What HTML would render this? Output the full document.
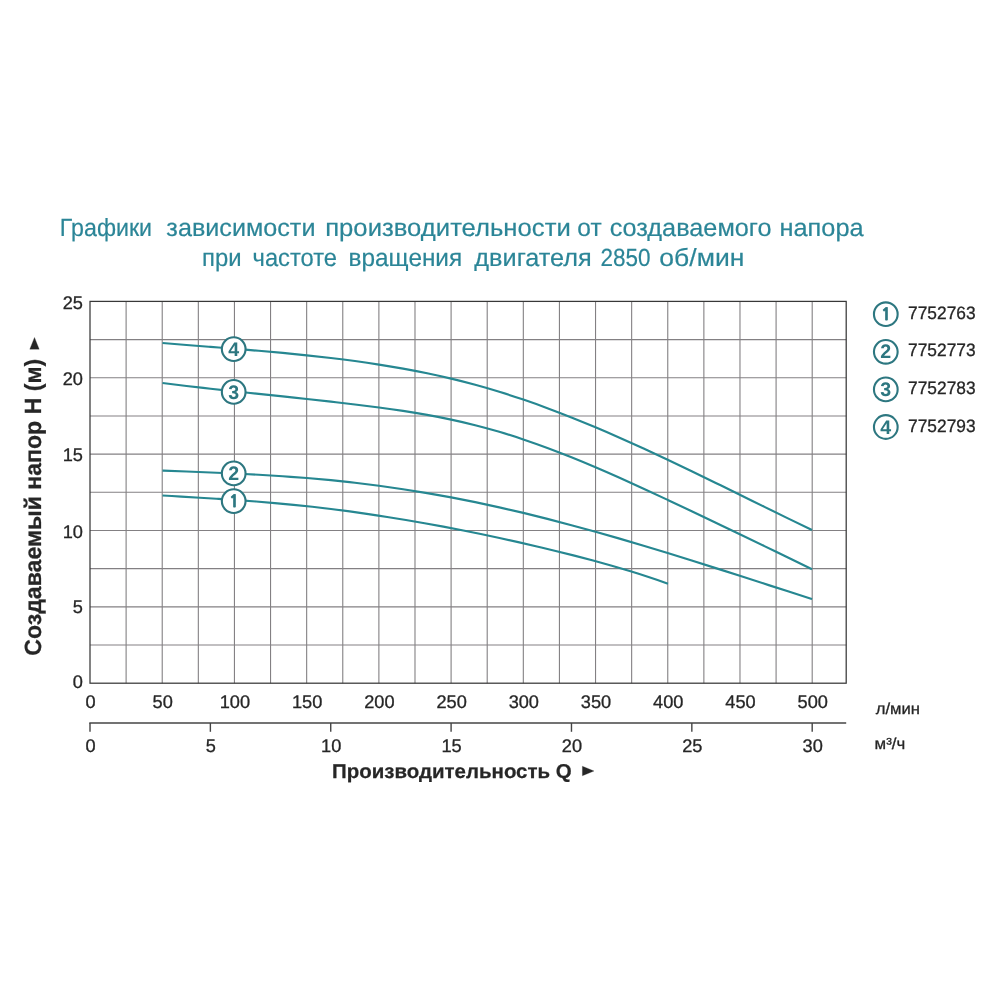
<!DOCTYPE html>
<html lang="ru"><head><meta charset="utf-8"><title>Графики</title>
<style>
html,body{margin:0;padding:0;background:#fff;}
body{width:1000px;height:1000px;overflow:hidden;}
svg{display:block;font-family:"Liberation Sans",sans-serif;text-rendering:geometricPrecision;}
</style></head><body>
<svg width="1000" height="1000" viewBox="0 0 1000 1000">
<rect width="1000" height="1000" fill="#fff"/>
<g fill="#2b8597" stroke="#2b8597" stroke-width="0.2" font-size="24.8">
<text x="59.84" y="236.4" textLength="92.23" lengthAdjust="spacingAndGlyphs">Графики</text>
<text x="166.37" y="236.4" textLength="149.10" lengthAdjust="spacingAndGlyphs">зависимости</text>
<text x="325.20" y="236.4" textLength="245.57" lengthAdjust="spacingAndGlyphs">производительности</text>
<text x="577.36" y="236.4" textLength="24.31" lengthAdjust="spacingAndGlyphs">от</text>
<text x="609.68" y="236.4" textLength="161.83" lengthAdjust="spacingAndGlyphs">создаваемого</text>
<text x="779.47" y="236.4" textLength="84.15" lengthAdjust="spacingAndGlyphs">напора</text>
<text x="202.08" y="265.6" textLength="39.57" lengthAdjust="spacingAndGlyphs">при</text>
<text x="252.58" y="265.6" textLength="84.46" lengthAdjust="spacingAndGlyphs">частоте</text>
<text x="348.60" y="265.6" textLength="113.58" lengthAdjust="spacingAndGlyphs">вращения</text>
<text x="474.35" y="265.6" textLength="117.43" lengthAdjust="spacingAndGlyphs">двигателя</text>
<text x="600.38" y="265.6" textLength="50.02" lengthAdjust="spacingAndGlyphs">2850</text>
<text x="659.37" y="265.6" textLength="84.99" lengthAdjust="spacingAndGlyphs">об/мин</text>
</g>
<g stroke="#838083" stroke-width="1.1">
<line x1="126.11" y1="301.4" x2="126.11" y2="683.2"/>
<line x1="162.22" y1="301.4" x2="162.22" y2="683.2"/>
<line x1="198.33" y1="301.4" x2="198.33" y2="683.2"/>
<line x1="234.44" y1="301.4" x2="234.44" y2="683.2"/>
<line x1="270.55" y1="301.4" x2="270.55" y2="683.2"/>
<line x1="306.66" y1="301.4" x2="306.66" y2="683.2"/>
<line x1="342.77" y1="301.4" x2="342.77" y2="683.2"/>
<line x1="378.88" y1="301.4" x2="378.88" y2="683.2"/>
<line x1="414.99" y1="301.4" x2="414.99" y2="683.2"/>
<line x1="451.10" y1="301.4" x2="451.10" y2="683.2"/>
<line x1="487.21" y1="301.4" x2="487.21" y2="683.2"/>
<line x1="523.32" y1="301.4" x2="523.32" y2="683.2"/>
<line x1="559.43" y1="301.4" x2="559.43" y2="683.2"/>
<line x1="595.54" y1="301.4" x2="595.54" y2="683.2"/>
<line x1="631.65" y1="301.4" x2="631.65" y2="683.2"/>
<line x1="667.76" y1="301.4" x2="667.76" y2="683.2"/>
<line x1="703.87" y1="301.4" x2="703.87" y2="683.2"/>
<line x1="739.98" y1="301.4" x2="739.98" y2="683.2"/>
<line x1="776.09" y1="301.4" x2="776.09" y2="683.2"/>
<line x1="812.20" y1="301.4" x2="812.20" y2="683.2"/>
<line x1="90.0" y1="645.02" x2="846.2" y2="645.02"/>
<line x1="90.0" y1="606.84" x2="846.2" y2="606.84"/>
<line x1="90.0" y1="568.66" x2="846.2" y2="568.66"/>
<line x1="90.0" y1="530.48" x2="846.2" y2="530.48"/>
<line x1="90.0" y1="492.30" x2="846.2" y2="492.30"/>
<line x1="90.0" y1="454.12" x2="846.2" y2="454.12"/>
<line x1="90.0" y1="415.94" x2="846.2" y2="415.94"/>
<line x1="90.0" y1="377.76" x2="846.2" y2="377.76"/>
<line x1="90.0" y1="339.58" x2="846.2" y2="339.58"/>
</g>
<rect x="90.0" y="301.4" width="756.20" height="381.80" fill="none" stroke="#383838" stroke-width="1.25"/>
<g stroke="#444" stroke-width="1.4">
<line x1="89.3" y1="723" x2="846.2" y2="723"/>
<line x1="90.00" y1="723" x2="90.00" y2="731.8"/>
<line x1="210.37" y1="723" x2="210.37" y2="731.8"/>
<line x1="330.73" y1="723" x2="330.73" y2="731.8"/>
<line x1="451.10" y1="723" x2="451.10" y2="731.8"/>
<line x1="571.47" y1="723" x2="571.47" y2="731.8"/>
<line x1="691.83" y1="723" x2="691.83" y2="731.8"/>
<line x1="812.20" y1="723" x2="812.20" y2="731.8"/>
</g>
<g fill="#262626" stroke="#262626" stroke-width="0.3" font-size="18.2">
<text x="82.9" y="309.3" text-anchor="end">25</text>
<text x="82.9" y="385.3" text-anchor="end">20</text>
<text x="82.9" y="461.4" text-anchor="end">15</text>
<text x="82.9" y="537.9" text-anchor="end">10</text>
<text x="82.9" y="613.4" text-anchor="end">5</text>
<text x="82.9" y="687.5" text-anchor="end">0</text>
<text x="90.50" y="708.2" text-anchor="middle">0</text>
<text x="162.72" y="708.2" text-anchor="middle">50</text>
<text x="234.94" y="708.2" text-anchor="middle">100</text>
<text x="307.16" y="708.2" text-anchor="middle">150</text>
<text x="379.38" y="708.2" text-anchor="middle">200</text>
<text x="451.60" y="708.2" text-anchor="middle">250</text>
<text x="523.82" y="708.2" text-anchor="middle">300</text>
<text x="596.04" y="708.2" text-anchor="middle">350</text>
<text x="668.26" y="708.2" text-anchor="middle">400</text>
<text x="740.48" y="708.2" text-anchor="middle">450</text>
<text x="812.70" y="708.2" text-anchor="middle">500</text>
<text x="90.50" y="752.4" text-anchor="middle">0</text>
<text x="210.87" y="752.4" text-anchor="middle">5</text>
<text x="331.23" y="752.4" text-anchor="middle">10</text>
<text x="451.60" y="752.4" text-anchor="middle">15</text>
<text x="571.97" y="752.4" text-anchor="middle">20</text>
<text x="692.33" y="752.4" text-anchor="middle">25</text>
<text x="812.70" y="752.4" text-anchor="middle">30</text>
</g>
<g fill="#262626" stroke="#262626" stroke-width="0.3" font-size="16">
<text x="875.72" y="713.5" textLength="44.24" lengthAdjust="spacingAndGlyphs">л/мин</text>
<text x="874.62" y="749" textLength="30.59" lengthAdjust="spacingAndGlyphs">м³/ч</text>
</g>
<g fill="#262626" font-weight="bold" stroke="#262626" stroke-width="0.25" stroke-linejoin="round">
<text x="332.02" y="777.6" font-size="20" textLength="239.66" lengthAdjust="spacingAndGlyphs">Производительность Q</text>
<path d="M582.4 766.2 L594 771 L582.4 775.8 Z"/>
<text transform="translate(40.5 655.72) rotate(-90)" font-size="23.4" textLength="296.87" lengthAdjust="spacingAndGlyphs">Создаваемый напор Н (м)</text>
<path d="M29.8 349.2 L34.5 337.4 L39.2 349.2 Z"/>
</g>
<g fill="none" stroke="#268791" stroke-width="2.15">
<path d="M162.50 495.48 C168.74 495.85 174.98 496.21 181.22 496.58 C187.46 496.95 193.70 497.33 199.94 497.71 C206.19 498.09 212.43 498.48 218.67 498.89 C224.91 499.30 231.15 499.72 237.39 500.16 C243.63 500.60 249.87 501.06 256.11 501.55 C262.35 502.03 268.59 502.55 274.83 503.09 C281.07 503.63 287.31 504.21 293.56 504.83 C299.80 505.44 306.04 506.09 312.28 506.79 C318.52 507.48 324.76 508.22 331.00 508.99 C337.24 509.76 343.48 510.58 349.72 511.43 C355.96 512.28 362.20 513.16 368.44 514.08 C374.69 515.01 380.93 515.96 387.17 516.95 C393.41 517.94 399.65 518.96 405.89 520.01 C412.13 521.06 418.37 522.14 424.61 523.25 C430.85 524.35 437.09 525.49 443.33 526.66 C449.57 527.83 455.81 529.03 462.06 530.25 C468.30 531.48 474.54 532.74 480.78 534.02 C487.02 535.31 493.26 536.63 499.50 537.98 C505.74 539.32 511.98 540.70 518.22 542.11 C524.46 543.52 530.70 544.96 536.94 546.43 C543.19 547.90 549.43 549.40 555.67 550.94 C561.91 552.47 568.15 554.03 574.39 555.63 C580.63 557.24 586.87 558.88 593.11 560.56 C599.35 562.25 605.59 563.99 611.83 565.78 C618.07 567.57 624.31 569.42 630.56 571.33 C636.80 573.24 643.04 575.22 649.28 577.27 C655.52 579.32 661.76 581.45 668.00 583.66"/>
<path d="M162.50 470.58 C170.52 470.88 178.54 471.18 186.56 471.49 C194.57 471.80 202.59 472.12 210.61 472.45 C218.63 472.79 226.65 473.15 234.67 473.53 C242.69 473.91 250.70 474.33 258.72 474.78 C266.74 475.23 274.76 475.72 282.78 476.26 C290.80 476.81 298.81 477.40 306.83 478.05 C314.85 478.70 322.87 479.41 330.89 480.19 C338.91 480.97 346.93 481.82 354.94 482.74 C362.96 483.67 370.98 484.67 379.00 485.75 C387.02 486.82 395.04 487.97 403.06 489.19 C411.07 490.42 419.09 491.71 427.11 493.08 C435.13 494.45 443.15 495.89 451.17 497.40 C459.19 498.92 467.20 500.50 475.22 502.16 C483.24 503.81 491.26 505.54 499.28 507.33 C507.30 509.13 515.31 510.99 523.33 512.92 C531.35 514.84 539.37 516.83 547.39 518.87 C555.41 520.92 563.43 523.02 571.44 525.17 C579.46 527.32 587.48 529.52 595.50 531.77 C603.52 534.01 611.54 536.31 619.56 538.64 C627.57 540.97 635.59 543.34 643.61 545.74 C651.63 548.14 659.65 550.58 667.67 553.04 C675.69 555.50 683.70 558.00 691.72 560.51 C699.74 563.02 707.76 565.56 715.78 568.11 C723.80 570.66 731.81 573.23 739.83 575.80 C747.85 578.38 755.87 580.97 763.89 583.56 C771.91 586.15 779.93 588.75 787.94 591.34 C795.96 593.94 803.98 596.53 812.00 599.12"/>
<path d="M162.50 383.05 C170.52 384.06 178.54 385.02 186.56 385.96 C194.57 386.90 202.59 387.82 210.61 388.71 C218.63 389.60 226.65 390.47 234.67 391.33 C242.69 392.19 250.70 393.04 258.72 393.88 C266.74 394.73 274.76 395.57 282.78 396.42 C290.80 397.27 298.81 398.13 306.83 398.99 C314.85 399.86 322.87 400.75 330.89 401.65 C338.91 402.56 346.93 403.48 354.94 404.45 C362.96 405.41 370.98 406.42 379.00 407.49 C387.02 408.56 395.04 409.69 403.06 410.92 C411.07 412.15 419.09 413.47 427.11 414.92 C435.13 416.36 443.15 417.91 451.17 419.62 C459.19 421.32 467.20 423.17 475.22 425.19 C483.24 427.21 491.26 429.41 499.28 431.78 C507.30 434.16 515.31 436.71 523.33 439.41 C531.35 442.11 539.37 444.97 547.39 447.95 C555.41 450.94 563.43 454.06 571.44 457.28 C579.46 460.51 587.48 463.84 595.50 467.27 C603.52 470.69 611.54 474.20 619.56 477.78 C627.57 481.36 635.59 485.00 643.61 488.70 C651.63 492.39 659.65 496.12 667.67 499.88 C675.69 503.64 683.70 507.42 691.72 511.23 C699.74 515.03 707.76 518.85 715.78 522.69 C723.80 526.53 731.81 530.38 739.83 534.24 C747.85 538.11 755.87 541.99 763.89 545.87 C771.91 549.75 779.93 553.64 787.94 557.54 C795.96 561.43 803.98 565.33 812.00 569.23"/>
<path d="M162.50 342.96 C170.52 343.65 178.54 344.31 186.56 344.96 C194.57 345.61 202.59 346.25 210.61 346.88 C218.63 347.52 226.65 348.15 234.67 348.80 C242.69 349.45 250.70 350.11 258.72 350.79 C266.74 351.47 274.76 352.19 282.78 352.93 C290.80 353.68 298.81 354.47 306.83 355.31 C314.85 356.14 322.87 357.03 330.89 357.98 C338.91 358.94 346.93 359.95 354.94 361.05 C362.96 362.14 370.98 363.31 379.00 364.57 C387.02 365.83 395.04 367.18 403.06 368.63 C411.07 370.08 419.09 371.63 427.11 373.30 C435.13 374.97 443.15 376.75 451.17 378.67 C459.19 380.58 467.20 382.62 475.22 384.80 C483.24 386.98 491.26 389.31 499.28 391.78 C507.30 394.25 515.31 396.86 523.33 399.60 C531.35 402.34 539.37 405.21 547.39 408.19 C555.41 411.17 563.43 414.27 571.44 417.46 C579.46 420.66 587.48 423.96 595.50 427.34 C603.52 430.72 611.54 434.19 619.56 437.74 C627.57 441.28 635.59 444.90 643.61 448.58 C651.63 452.26 659.65 455.99 667.67 459.78 C675.69 463.56 683.70 467.39 691.72 471.26 C699.74 475.12 707.76 479.02 715.78 482.94 C723.80 486.86 731.81 490.79 739.83 494.74 C747.85 498.68 755.87 502.63 763.89 506.57 C771.91 510.51 779.93 514.45 787.94 518.36 C795.96 522.28 803.98 526.17 812.00 530.03"/>
</g>
<g>
<circle cx="233.7" cy="349.1" r="11.85" fill="#fff" stroke="#2d7780" stroke-width="2.1"/><text x="233.70" y="355.70" text-anchor="middle" font-size="19.6" font-weight="bold" fill="#2d7780">4</text>
<circle cx="233.7" cy="391.9" r="11.85" fill="#fff" stroke="#2d7780" stroke-width="2.1"/><text x="233.70" y="398.50" text-anchor="middle" font-size="19.6" font-weight="bold" fill="#2d7780">3</text>
<circle cx="233.7" cy="473.4" r="11.85" fill="#fff" stroke="#2d7780" stroke-width="2.1"/><text x="233.70" y="480.00" text-anchor="middle" font-size="19.6" font-weight="bold" fill="#2d7780">2</text>
<circle cx="233.7" cy="501.1" r="11.85" fill="#fff" stroke="#2d7780" stroke-width="2.1"/><text x="234.10" y="507.00" text-anchor="middle" font-size="16.8" font-weight="bold" fill="#2d7780" font-family="NanumGothic, Liberation Sans, sans-serif" stroke="#2d7780" stroke-width="0.7" stroke-linejoin="round">1</text>
<circle cx="885.8" cy="314.2" r="11.85" fill="#fff" stroke="#2d7780" stroke-width="2.1"/><text x="886.20" y="320.10" text-anchor="middle" font-size="16.8" font-weight="bold" fill="#2d7780" font-family="NanumGothic, Liberation Sans, sans-serif" stroke="#2d7780" stroke-width="0.7" stroke-linejoin="round">1</text>
<circle cx="885.8" cy="351.8" r="11.85" fill="#fff" stroke="#2d7780" stroke-width="2.1"/><text x="885.80" y="358.40" text-anchor="middle" font-size="19.6" font-weight="bold" fill="#2d7780">2</text>
<circle cx="885.8" cy="389.4" r="11.85" fill="#fff" stroke="#2d7780" stroke-width="2.1"/><text x="885.80" y="396.00" text-anchor="middle" font-size="19.6" font-weight="bold" fill="#2d7780">3</text>
<circle cx="885.8" cy="427.0" r="11.85" fill="#fff" stroke="#2d7780" stroke-width="2.1"/><text x="885.80" y="433.60" text-anchor="middle" font-size="19.6" font-weight="bold" fill="#2d7780">4</text>
</g>
<g fill="#262626" stroke="#262626" stroke-width="0.3" font-size="18">
<text x="908.09" y="318.9" textLength="67.46" lengthAdjust="spacingAndGlyphs">7752763</text>
<text x="908.09" y="356.4" textLength="67.46" lengthAdjust="spacingAndGlyphs">7752773</text>
<text x="908.09" y="394.0" textLength="67.46" lengthAdjust="spacingAndGlyphs">7752783</text>
<text x="908.09" y="431.8" textLength="67.46" lengthAdjust="spacingAndGlyphs">7752793</text>
</g>
</svg></body></html>
